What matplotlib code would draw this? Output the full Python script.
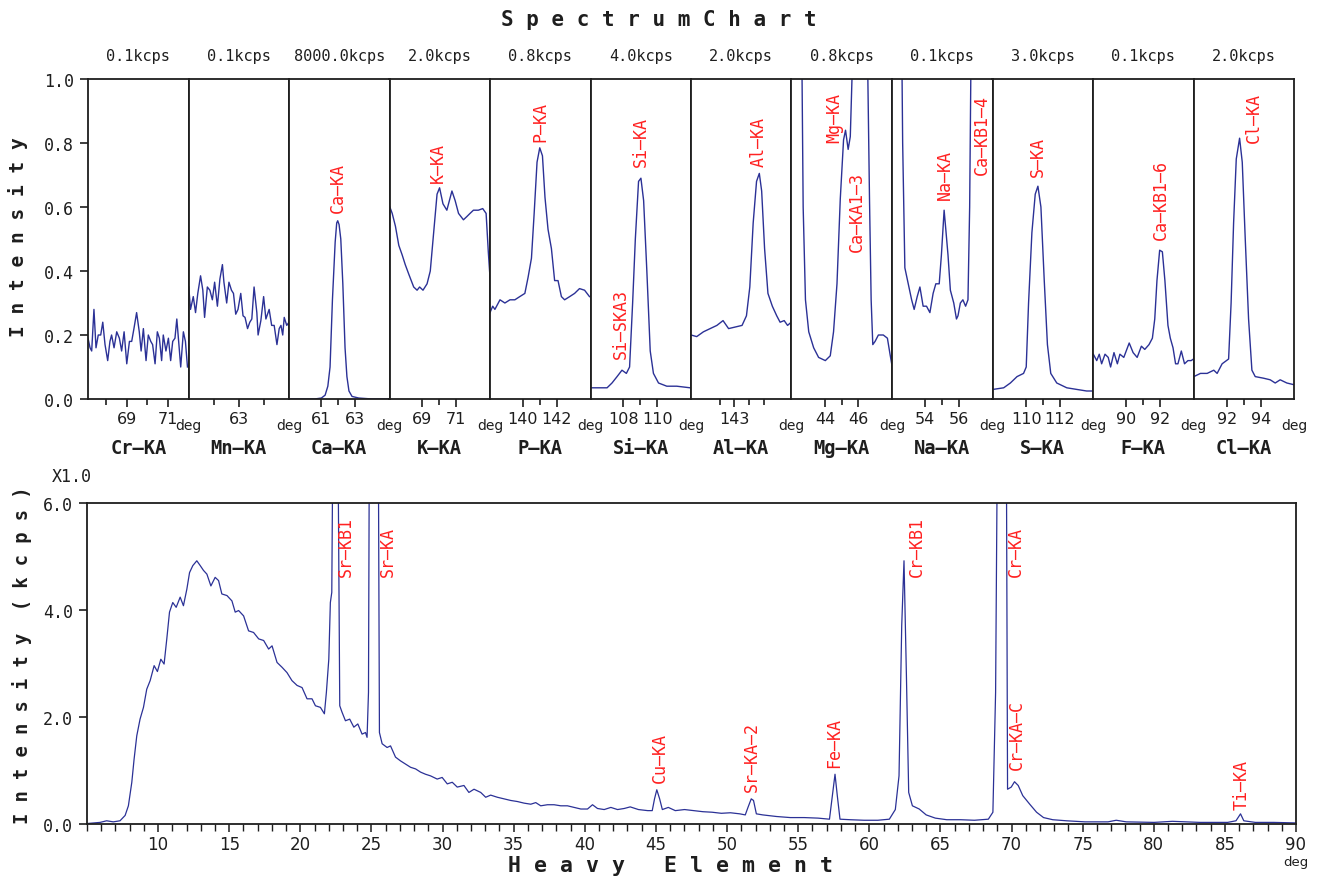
import matplotlib
matplotlib.use("Agg")
import matplotlib.pyplot as plt

# ---- top row: one small scan per element line (deg, normalised intensity) ----
panel_names = ["Cr-KA", "Mn-KA", "Ca-KA", "K-KA", "P-KA", "Si-KA",
               "Al-KA", "Mg-KA", "Na-KA", "S-KA", "F-KA", "Cl-KA"]
panel_scales = ["0.1kcps", "0.1kcps", "8000.0kcps", "2.0kcps", "0.8kcps", "4.0kcps",
                "2.0kcps", "0.8kcps", "0.1kcps", "3.0kcps", "0.1kcps", "2.0kcps"]
panel_xlim = [(67.1, 72.0), (61.0, 65.0), (59.1, 65.0), (67.06, 73.0),
              (138.06, 144.0), (106.06, 112.0), (140.03, 146.9), (41.94, 48.06),
              (52.06, 58.0), (107.98, 114.0), (88.06, 94.0), (89.96, 96.0)]
panel_major = [[69, 71], [63], [61, 63], [69, 71], [140, 142], [108, 110],
               [143], [44, 46], [54, 56], [110, 112], [90, 92], [92, 94]]
panel_minor = [[68, 70], [62, 64], [62], [70], [141], [109],
               [142, 144, 145], [45], [55], [111], [91], [93]]

cr_deg = [67.10, 67.20, 67.28, 67.39, 67.49, 67.60, 67.72, 67.82, 67.93, 68.06,
          68.17, 68.25, 68.37, 68.50, 68.63, 68.74, 68.86, 68.99, 69.12, 69.23,
          69.34, 69.47, 69.60, 69.69, 69.80, 69.93, 70.04, 70.16, 70.25, 70.37,
          70.48, 70.58, 70.69, 70.77, 70.90, 71.02, 71.13, 71.23, 71.34, 71.43,
          71.52, 71.62, 71.75, 71.85, 71.95]
cr_int = [0.19, 0.16, 0.15, 0.28, 0.16, 0.20, 0.20, 0.24, 0.17, 0.12,
          0.18, 0.20, 0.16, 0.21, 0.19, 0.15, 0.21, 0.11, 0.18, 0.18,
          0.22, 0.27, 0.21, 0.15, 0.22, 0.12, 0.20, 0.18, 0.17, 0.11,
          0.21, 0.19, 0.12, 0.20, 0.15, 0.19, 0.12, 0.18, 0.19, 0.25,
          0.18, 0.10, 0.21, 0.18, 0.10]

mn_deg = [61.01, 61.08, 61.19, 61.28, 61.37, 61.48, 61.57, 61.64, 61.75, 61.85,
          61.95, 62.04, 62.15, 62.25, 62.35, 62.41, 62.52, 62.61, 62.71, 62.79,
          62.88, 62.97, 63.08, 63.17, 63.25, 63.35, 63.44, 63.52, 63.61, 63.72,
          63.77, 63.88, 63.99, 64.08, 64.21, 64.31, 64.41, 64.52, 64.61, 64.68,
          64.75, 64.81, 64.91, 65.00]
mn_int = [0.35, 0.28, 0.32, 0.27, 0.33, 0.385, 0.34, 0.255, 0.35, 0.34,
          0.31, 0.365, 0.29, 0.375, 0.42, 0.365, 0.30, 0.365, 0.34, 0.33,
          0.265, 0.28, 0.33, 0.26, 0.255, 0.22, 0.24, 0.25, 0.35, 0.27,
          0.20, 0.245, 0.32, 0.25, 0.28, 0.23, 0.23, 0.17, 0.22, 0.23,
          0.20, 0.255, 0.23, 0.24]

ca_deg = [59.10, 60.60, 61.00, 61.22, 61.38, 61.51, 61.65, 61.81, 61.90, 61.96,
          62.04, 62.14, 62.26, 62.39, 62.50, 62.62, 62.80, 63.20, 64.00, 65.00]
ca_int = [0.0, 0.0, 0.003, 0.012, 0.04, 0.10, 0.31, 0.49, 0.55, 0.557,
          0.545, 0.50, 0.36, 0.16, 0.07, 0.025, 0.008, 0.003, 0.0, 0.0]

k_deg = [67.08, 67.22, 67.41, 67.61, 67.81, 67.99, 68.20, 68.49, 68.69, 68.84,
         69.04, 69.28, 69.47, 69.67, 69.87, 70.02, 70.22, 70.45, 70.60, 70.75,
         70.94, 71.14, 71.43, 71.63, 71.82, 72.02, 72.31, 72.57, 72.77, 72.90, 73.00]
k_int = [0.60, 0.58, 0.54, 0.48, 0.45, 0.42, 0.39, 0.35, 0.34, 0.35,
         0.34, 0.36, 0.40, 0.52, 0.64, 0.66, 0.61, 0.59, 0.62, 0.65,
         0.62, 0.58, 0.56, 0.57, 0.58, 0.59, 0.59, 0.595, 0.58, 0.46, 0.38]

p_deg = [138.06, 138.22, 138.35, 138.65, 138.94, 139.24, 139.53, 139.82, 140.12,
         140.31, 140.51, 140.67, 140.84, 141.00, 141.16, 141.31, 141.49, 141.69,
         141.88, 142.08, 142.28, 142.47, 142.77, 143.06, 143.35, 143.65, 143.94]
p_int = [0.27, 0.29, 0.28, 0.31, 0.30, 0.31, 0.31, 0.32, 0.33,
         0.38, 0.44, 0.58, 0.74, 0.785, 0.76, 0.63, 0.53, 0.47,
         0.37, 0.37, 0.32, 0.31, 0.32, 0.33, 0.345, 0.34, 0.32]

si_deg = [106.10, 106.65, 107.04, 107.33, 107.63, 107.92, 108.18, 108.37, 108.55, 108.71,
          108.90, 109.04, 109.20, 109.39, 109.59, 109.78, 110.08, 110.57, 111.16, 111.95]
si_int = [0.035, 0.035, 0.035, 0.05, 0.07, 0.09, 0.08, 0.10, 0.30, 0.50,
          0.68, 0.69, 0.62, 0.40, 0.15, 0.08, 0.05, 0.04, 0.04, 0.035]

al_deg = [140.03, 140.42, 140.88, 141.34, 141.80, 142.22, 142.60, 143.06, 143.52, 143.82,
          144.05, 144.28, 144.51, 144.70, 144.86, 145.06, 145.29, 145.59, 145.89, 146.12,
          146.40, 146.63, 146.88]
al_int = [0.20, 0.195, 0.21, 0.22, 0.23, 0.245, 0.22, 0.225, 0.23, 0.26,
          0.35, 0.55, 0.68, 0.705, 0.65, 0.47, 0.33, 0.29, 0.26, 0.24,
          0.245, 0.23, 0.24]

mg_deg = [41.94, 42.40, 42.55, 42.65, 42.79, 42.99, 43.29, 43.59, 44.00, 44.30,
          44.50, 44.71, 44.91, 45.11, 45.23, 45.39, 45.52, 45.68, 45.82, 46.12,
          46.49, 46.59, 46.69, 46.79, 46.89, 47.03, 47.23, 47.53, 47.78, 47.94, 48.04]
mg_int = [3.0, 2.0, 1.2, 0.60, 0.31, 0.21, 0.16, 0.13, 0.12, 0.135,
          0.21, 0.36, 0.625, 0.81, 0.84, 0.78, 0.82, 1.1, 1.8, 3.0,
          1.8, 1.0, 0.625, 0.31, 0.17, 0.18, 0.20, 0.20, 0.19, 0.14, 0.11]

na_deg = [52.06, 52.57, 52.69, 52.82, 53.02, 53.22, 53.37, 53.55, 53.71, 53.90,
          54.10, 54.30, 54.49, 54.65, 54.85, 54.98, 55.14, 55.24, 55.37, 55.51,
          55.71, 55.87, 55.96, 56.10, 56.25, 56.41, 56.55, 56.65, 56.75, 57.24,
          57.82, 58.00]
na_int = [3.0, 1.5, 0.80, 0.41, 0.36, 0.31, 0.28, 0.32, 0.35, 0.29,
          0.29, 0.27, 0.33, 0.36, 0.36, 0.45, 0.59, 0.53, 0.45, 0.34,
          0.30, 0.25, 0.26, 0.30, 0.31, 0.29, 0.31, 0.60, 1.2, 3.0,
          2.0, 1.5]

s_deg = [108.02, 108.65, 109.05, 109.45, 109.84, 110.00, 110.14, 110.34, 110.54, 110.70,
         110.88, 111.08, 111.27, 111.47, 111.83, 112.43, 113.02, 113.62, 113.98]
s_int = [0.03, 0.035, 0.05, 0.07, 0.08, 0.10, 0.30, 0.52, 0.64, 0.665,
         0.60, 0.37, 0.17, 0.08, 0.05, 0.035, 0.03, 0.025, 0.025]

f_deg = [88.08, 88.28, 88.43, 88.57, 88.77, 88.96, 89.10, 89.30, 89.50, 89.65,
         89.88, 90.20, 90.43, 90.67, 90.92, 91.12, 91.37, 91.57, 91.71, 91.84,
         92.00, 92.16, 92.31, 92.49, 92.63, 92.79, 92.94, 93.08, 93.28, 93.47,
         93.67, 93.86, 94.00]
f_int = [0.14, 0.12, 0.14, 0.11, 0.14, 0.13, 0.10, 0.145, 0.11, 0.14,
         0.13, 0.175, 0.145, 0.13, 0.165, 0.155, 0.17, 0.19, 0.25, 0.37,
         0.465, 0.46, 0.37, 0.23, 0.19, 0.16, 0.11, 0.11, 0.15, 0.11,
         0.12, 0.12, 0.125]

cl_deg = [89.98, 90.38, 90.78, 91.18, 91.38, 91.68, 92.07, 92.22, 92.37, 92.53,
          92.73, 92.89, 93.07, 93.27, 93.47, 93.67, 94.17, 94.57, 94.87, 95.17,
          95.57, 95.97]
cl_int = [0.07, 0.08, 0.08, 0.09, 0.08, 0.11, 0.125, 0.30, 0.55, 0.75,
          0.815, 0.74, 0.50, 0.25, 0.09, 0.07, 0.065, 0.06, 0.05, 0.06,
          0.05, 0.045]

# peak markers in the top row: panel index, name, angle, level of label foot
top_peak_panel = [2, 3, 4, 5, 5, 6, 7, 7, 8, 8, 9, 10, 11]
top_peak_names = ["Ca-KA", "K-KA", "P-KA", "Si-SKA3", "Si-KA", "Al-KA", "Mg-KA",
                  "Ca-KA1-3", "Na-KA", "Ca-KB1-4", "S-KA", "Ca-KB1-6", "Cl-KA"]
top_peak_deg = [61.95, 69.94, 141.06, 107.88, 109.06, 144.65, 44.55,
                45.94, 55.18, 57.35, 110.72, 92.06, 93.61]
top_peak_level = [0.584, 0.678, 0.806, 0.128, 0.728, 0.728, 0.803,
                  0.4625, 0.625, 0.703, 0.697, 0.50, 0.803]

# ---- bottom: heavy element wide scan (deg, kcps) ----
heavy_deg = [
    5.05, 5.92, 6.38, 6.85, 7.32, 7.68, 7.91, 8.15, 8.31, 8.50,
    8.73, 8.97, 9.20, 9.44, 9.72, 9.95, 10.19, 10.42, 10.61, 10.80,
    11.03, 11.27, 11.55, 11.78, 12.02, 12.21, 12.44, 12.72, 12.96, 13.19,
    13.43, 13.71, 14.01, 14.25, 14.48, 14.84, 15.19, 15.42, 15.66, 16.01,
    16.36, 16.71, 17.07, 17.42, 17.77, 18.01, 18.36, 18.71, 19.06, 19.41,
    19.77, 20.12, 20.47, 20.82, 21.06, 21.41, 21.69, 21.83, 22.00, 22.11,
    22.21, 22.28, 22.46, 22.65, 22.77, 22.93, 23.17, 23.47, 23.76, 24.04,
    24.34, 24.58, 24.69, 24.79, 24.86, 25.16, 25.47, 25.56, 25.75, 26.10,
    26.34, 26.69, 27.04, 27.39, 27.75, 28.10, 28.45, 28.80, 29.15, 29.62,
    29.97, 30.33, 30.68, 31.03, 31.50, 31.85, 32.21, 32.68, 33.03, 33.38,
    33.85, 34.32, 34.79, 35.26, 35.73, 36.20, 36.55, 36.90, 37.37, 37.84,
    38.31, 38.78, 39.25, 39.72, 40.19, 40.54, 40.89, 41.36, 41.83, 42.30,
    42.77, 43.19, 43.77, 44.42, 44.74, 44.90, 45.06, 45.26, 45.45, 45.87,
    46.36, 47.01, 47.65, 48.30, 48.95, 49.60, 50.24, 50.89, 51.28, 51.47,
    51.70, 51.86, 52.06, 52.51, 53.48, 54.45, 55.42, 56.39, 57.20, 57.43,
    57.59, 57.75, 57.94, 58.66, 59.63, 60.60, 61.41, 61.83, 62.09, 62.28,
    62.44, 62.61, 62.77, 63.03, 63.51, 64.00, 64.64, 65.45, 66.42, 67.39,
    68.37, 68.69, 68.88, 69.08, 69.34, 69.60, 69.72, 69.98, 70.21, 70.47,
    70.79, 71.28, 71.76, 72.25, 72.90, 73.87, 75.16, 76.78, 77.36, 78.07,
    80.02, 81.31, 83.25, 85.19, 85.78, 86.10, 86.33, 87.14, 88.43, 90.00]
heavy_kcps = [
    0.01, 0.03, 0.06, 0.04, 0.06, 0.16, 0.34, 0.78, 1.21, 1.65,
    1.96, 2.18, 2.52, 2.68, 2.96, 2.85, 3.08, 2.99, 3.46, 3.96,
    4.14, 4.05, 4.24, 4.08, 4.39, 4.70, 4.83, 4.92, 4.83, 4.74,
    4.67, 4.45, 4.61, 4.55, 4.30, 4.27, 4.17, 3.96, 3.99, 3.89,
    3.61, 3.58, 3.46, 3.43, 3.27, 3.33, 3.02, 2.93, 2.83, 2.68,
    2.59, 2.55, 2.34, 2.34, 2.21, 2.18, 2.06, 2.46, 3.08, 4.14,
    4.33, 7.0, 12.0, 7.0, 2.21, 2.09, 1.93, 1.96, 1.81, 1.87,
    1.68, 1.71, 1.62, 2.46, 8.0, 40.0, 8.0, 1.71, 1.50, 1.43,
    1.46, 1.25, 1.18, 1.12, 1.06, 1.03, 0.97, 0.93, 0.90, 0.84,
    0.87, 0.75, 0.78, 0.69, 0.72, 0.59, 0.65, 0.59, 0.50, 0.54,
    0.50, 0.47, 0.44, 0.42, 0.39, 0.37, 0.40, 0.34, 0.36, 0.36,
    0.34, 0.34, 0.31, 0.28, 0.28, 0.36, 0.29, 0.27, 0.31, 0.27,
    0.29, 0.32, 0.27, 0.25, 0.25, 0.47, 0.64, 0.47, 0.27, 0.31,
    0.25, 0.27, 0.25, 0.23, 0.22, 0.20, 0.21, 0.19, 0.17, 0.31,
    0.47, 0.44, 0.19, 0.17, 0.14, 0.12, 0.12, 0.11, 0.09, 0.59,
    0.93, 0.53, 0.09, 0.08, 0.07, 0.07, 0.09, 0.27, 0.90, 3.71,
    4.92, 2.77, 0.59, 0.34, 0.28, 0.17, 0.11, 0.08, 0.08, 0.07,
    0.09, 0.22, 2.46, 10.0, 40.0, 10.0, 0.65, 0.69, 0.79, 0.72,
    0.53, 0.37, 0.22, 0.12, 0.08, 0.06, 0.04, 0.04, 0.07, 0.04,
    0.03, 0.05, 0.03, 0.03, 0.06, 0.19, 0.06, 0.03, 0.03, 0.02]

heavy_peak_names = ["Sr-KB1", "Sr-KA", "Cu-KA", "Sr-KA-2", "Fe-KA",
                    "Cr-KB1", "Cr-KA", "Cr-KA-C", "Ti-KA"]
heavy_peak_deg = [23.17, 26.13, 45.29, 51.76, 57.52, 63.35, 70.31, 70.40, 86.17]
heavy_peak_level = [4.64, 4.64, 0.785, 0.62, 1.06, 4.64, 4.63, 1.03, 0.28]

panel_deg = [cr_deg, mn_deg, ca_deg, k_deg, p_deg, si_deg,
             al_deg, mg_deg, na_deg, s_deg, f_deg, cl_deg]
panel_int = [cr_int, mn_int, ca_int, k_int, p_int, si_int,
             al_int, mg_int, na_int, s_int, f_int, cl_int]

LINE = "#2b3196"
RED = "#ff2020"
INK = "#1e1e1e"
MONO = "DejaVu Sans Mono"
SANS = "DejaVu Sans"
W, H = 1321, 879


def dash(s):
    return s.replace("-", "\u2014")


def px_box(x0, y0, x1, y1):
    return [x0 / W, 1 - y1 / H, (x1 - x0) / W, (y1 - y0) / H]


def style_spines(ax):
    for sp in ax.spines.values():
        sp.set_linewidth(1.3)
        sp.set_color(INK)


fig = plt.figure(figsize=(W / 100, H / 100), dpi=100)

# top row of element windows
left, right, top, bottom = 88, 1294, 80, 400
pw = (right - left) / len(panel_names)
top_axes = []
for i, name in enumerate(panel_names):
    ax = fig.add_axes(px_box(left + i * pw, top, left + (i + 1) * pw, bottom))
    top_axes.append(ax)
    ax.plot(panel_deg[i], panel_int[i], color=LINE, lw=1.0)
    ax.set_xlim(*panel_xlim[i])
    ax.set_ylim(0, 1)
    style_spines(ax)
    ax.set_xticks(panel_major[i])
    ax.set_xticks(panel_minor[i], minor=True)
    ax.tick_params(axis="x", which="major", direction="out", length=6, width=1.2,
                   color=INK, pad=3, labelsize=11.5, labelcolor=INK)
    ax.tick_params(axis="x", which="minor", direction="out", length=4, width=1.2, color=INK)
    for lab in ax.get_xticklabels():
        lab.set_family(SANS)
    if i == 0:
        ax.set_yticks([0.0, 0.2, 0.4, 0.6, 0.8, 1.0])
        ax.set_yticklabels(["%.1f" % v for v in [0.0, 0.2, 0.4, 0.6, 0.8, 1.0]],
                           family=MONO, fontsize=12, color=INK)
        ax.tick_params(axis="y", direction="out", length=6, width=1.2, color=INK, pad=4)
    else:
        ax.tick_params(axis="y", left=False, labelleft=False)
    ax.text(0.5, 1 + 24 / 320, panel_scales[i], transform=ax.transAxes,
            ha="center", va="center", fontsize=11, family=MONO, color=INK)
    ax.text(1.0, -30 / 320, "deg", transform=ax.transAxes, ha="center",
            va="baseline", fontsize=10, family=SANS, color=INK)
    ax.text(0.5, -48 / 320, dash(name), transform=ax.transAxes, ha="center",
            va="center", fontsize=13.5, weight="bold", family=MONO, color=INK)

for p, name, x, y in zip(top_peak_panel, top_peak_names, top_peak_deg, top_peak_level):
    top_axes[p].text(x, y, dash(name), rotation=90, ha="center", va="bottom",
                     fontsize=12, family=MONO, color=RED)

fig.text(659 / W, 1 - 20 / H, "S p e c t r u m C h a r t", ha="center", va="center",
         fontsize=15, weight="bold", family=MONO, color=INK)
fig.text(18 / W, 1 - 237 / H, "I n t e n s i t y", rotation=90, ha="center",
         va="center", fontsize=14, weight="bold", family=MONO, color=INK)

# bottom wide scan
ax = fig.add_axes(px_box(87, 504, 1296, 825))
ax.plot(heavy_deg, heavy_kcps, color=LINE, lw=0.9)
ax.set_xlim(5, 90)
ax.set_ylim(0, 6)
style_spines(ax)
ax.set_xticks(list(range(10, 91, 5)))
ax.set_xticks(list(range(5, 91)), minor=True)
ax.tick_params(axis="x", which="major", direction="out", length=6, width=1.1,
               color=INK, pad=2, labelsize=12, labelcolor=INK)
ax.tick_params(axis="x", which="minor", direction="out", length=5, width=1.0, color=INK)
ax.set_yticks([0, 2, 4, 6])
ax.set_yticklabels(["%.1f" % v for v in [0, 2, 4, 6]], family=MONO, fontsize=12, color=INK)
ax.tick_params(axis="y", direction="out", length=6, width=1.2, color=INK, pad=4)

for name, x, y in zip(heavy_peak_names, heavy_peak_deg, heavy_peak_level):
    ax.text(x, y, dash(name), rotation=90, ha="center", va="bottom",
            fontsize=12, family=MONO, color=RED)

fig.text(72 / W, 1 - 477 / H, "X1.0", ha="center", va="center",
         fontsize=12, family=MONO, color=INK)
fig.text(1296 / W, 1 - 863 / H, "deg", ha="center", va="center",
         fontsize=9.5, family=SANS, color=INK)
fig.text(671 / W, 1 - 866 / H, "H e a v y   E l e m e n t", ha="center", va="center",
         fontsize=15.5, weight="bold", family=MONO, color=INK)
fig.text(22 / W, 1 - 655 / H, "I n t e n s i t y  ( k c p s )", rotation=90,
         ha="center", va="center", fontsize=13.5, weight="bold", family=MONO, color=INK)

fig.savefig("out.png", dpi=100)
